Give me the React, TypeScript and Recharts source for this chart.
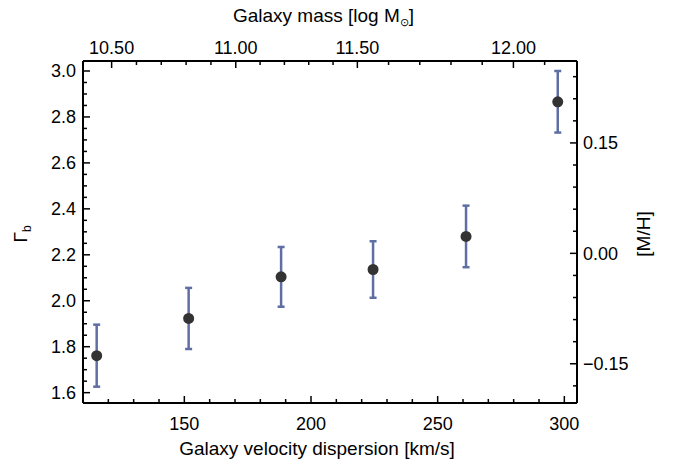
import React from "react";
import { ScatterChart, Scatter, XAxis, YAxis, ErrorBar } from "recharts";

// one point per velocity dispersion bin
const sigma = [115.4, 151.7, 188.2, 224.5, 261.2, 297.4];
const gammaB = [1.761, 1.923, 2.104, 2.136, 2.28, 2.866];
const gammaErr = [0.135, 0.133, 0.13, 0.123, 0.134, 0.134];

// labelled ticks
const sigmaLabels = [150, 200, 250, 300];
const gammaLabels = [1.6, 1.8, 2.0, 2.2, 2.4, 2.6, 2.8, 3.0];
const mhLabels = [-0.15, 0.0, 0.15];
const massLabels = [10.5, 11.0, 11.5, 12.0];
// velocity dispersion under each mass label of the top axis
const massAtSigma = [121.3, 170.3, 218.3, 279.9];

const SIGMA_DOMAIN: [number, number] = [110, 305];
const GAMMA_DOMAIN: [number, number] = [1.555, 3.0435];
const MH_DOMAIN: [number, number] = [-0.2033, 0.2613];

const W = 673;
const H = 464;
const FONT = "'Liberation Sans', Arial, Helvetica, sans-serif";
const FS = 18;
const TITLE_FS = 19;

const data = sigma.map((s, i) => ({ sigma: s, gamma: gammaB[i], err: gammaErr[i] }));

const steps = (from: number, to: number, step: number) => {
    const out: number[] = [];
    const n = Math.round((to - from) / step);
    for (let i = 0; i <= n; i++) out.push(Math.round((from + i * step) * 1000) / 1000);
    return out;
};

// piecewise linear between the labelled masses
const massToSigma = (m: number) => {
    let i = 0;
    while (i < massLabels.length - 2 && m > massLabels[i + 1]) i++;
    const t = (m - massLabels[i]) / (massLabels[i + 1] - massLabels[i]);
    return massAtSigma[i] + t * (massAtSigma[i + 1] - massAtSigma[i]);
};

const sigmaTicks = steps(120, 300, 10);
const gammaTicks = steps(1.6, 3.0, 0.05);
const mhTicks = steps(-0.18, 0.24, 0.03);
const massTicks = steps(10.5, 12.1, 0.1).map(massToSigma);

const findMajor = (v: number, majors: number[]) =>
    majors.findIndex((m) => Math.abs(m - v) < 1e-4);

type Side = "bottom" | "top" | "left" | "right";

function makeTick(side: Side, majors: number[], fmt: (idx: number) => string) {
    return (props: any) => {
        const { x, y, payload } = props;
        const idx = findMajor(payload.value, majors);
        const len = idx >= 0 ? 7 : 4;
        let line;
        let label = null;
        const textProps = { fontFamily: FONT, fontSize: FS, fill: "#000" };
        if (side === "bottom") {
            line = <line x1={x} y1={y} x2={x} y2={y - len} />;
            if (idx >= 0)
                label = <text x={x} y={y + 26.5} textAnchor="middle" {...textProps}>{fmt(idx)}</text>;
        } else if (side === "top") {
            line = <line x1={x} y1={y} x2={x} y2={y + len} />;
            if (idx >= 0)
                label = <text x={x} y={y - 7} textAnchor="middle" {...textProps}>{fmt(idx)}</text>;
        } else if (side === "left") {
            line = <line x1={x} y1={y} x2={x + len} y2={y} />;
            if (idx >= 0)
                label = <text x={x - 7} y={y + 6.5} textAnchor="end" {...textProps}>{fmt(idx)}</text>;
        } else {
            line = <line x1={x} y1={y} x2={x - len} y2={y} />;
            if (idx >= 0)
                label = <text x={x + 6} y={y + 6.5} textAnchor="start" {...textProps}>{fmt(idx)}</text>;
        }
        return (
            <g stroke="#000" strokeWidth={1.5}>
                {line}
                <g stroke="none">{label}</g>
            </g>
        );
    };
}

const axisLine = { stroke: "#000", strokeWidth: 2 };

export default function App() {
    return (
        <div style={{ position: "absolute", left: 0, top: 0, width: W, height: H, background: "#fff" }}>
            <ScatterChart width={W} height={H} margin={{ top: 0, right: 0, bottom: 0, left: 0 }}>
                <XAxis
                    xAxisId="bottom"
                    dataKey="sigma"
                    type="number"
                    orientation="bottom"
                    domain={SIGMA_DOMAIN}
                    allowDataOverflow
                    ticks={sigmaTicks}
                    interval={0}
                    height={61}
                    tickSize={0}
                    tickMargin={0}
                    tickLine={false}
                    axisLine={axisLine}
                    tick={makeTick("bottom", sigmaLabels, (i) => String(sigmaLabels[i]))}
                />
                <XAxis
                    xAxisId="top"
                    dataKey="sigma"
                    type="number"
                    orientation="top"
                    domain={SIGMA_DOMAIN}
                    allowDataOverflow
                    ticks={massTicks}
                    interval={0}
                    height={61}
                    tickSize={0}
                    tickMargin={0}
                    tickLine={false}
                    axisLine={axisLine}
                    tick={makeTick("top", massAtSigma, (i) => massLabels[i].toFixed(2))}
                />
                <YAxis
                    yAxisId="left"
                    dataKey="gamma"
                    type="number"
                    orientation="left"
                    domain={GAMMA_DOMAIN}
                    allowDataOverflow
                    ticks={gammaTicks}
                    interval={0}
                    width={83}
                    tickSize={0}
                    tickMargin={0}
                    tickLine={false}
                    axisLine={axisLine}
                    tick={makeTick("left", gammaLabels, (i) => gammaLabels[i].toFixed(1))}
                />
                <YAxis
                    yAxisId="right"
                    dataKey="gamma"
                    type="number"
                    orientation="right"
                    domain={MH_DOMAIN}
                    allowDataOverflow
                    ticks={mhTicks}
                    interval={0}
                    width={96}
                    tickSize={0}
                    tickMargin={0}
                    tickLine={false}
                    axisLine={axisLine}
                    tick={makeTick("right", mhLabels, (i) =>
                        mhLabels[i] < 0 ? "\u2212" + Math.abs(mhLabels[i]).toFixed(2) : mhLabels[i].toFixed(2)
                    )}
                />
                {/* keeps the top and right axes alive, draws nothing */}
                <Scatter
                    data={data}
                    xAxisId="top"
                    yAxisId="right"
                    shape={() => <g />}
                    isAnimationActive={false}
                />
                <Scatter
                    data={data}
                    xAxisId="bottom"
                    yAxisId="left"
                    fill="#333333"
                    shape={(p: any) => <circle cx={p.cx} cy={p.cy} r={5.5} fill="#333333" />}
                    isAnimationActive={false}
                >
                    <ErrorBar dataKey="err" direction="y" width={3.5} stroke="#5f6fa3" strokeWidth={2.5} />
                </Scatter>
            </ScatterChart>
            <svg
                width={W}
                height={H}
                style={{ position: "absolute", left: 0, top: 0, pointerEvents: "none" }}
                fontFamily={FONT}
                fontSize={TITLE_FS}
            >
                <text x={323.5} y={22} textAnchor="middle">
                    Galaxy mass [log M
                    <tspan fontSize={11} dy={4}>{"\u2299"}</tspan>
                    <tspan dy={-4}>]</tspan>
                </text>
                <text x={317} y={455} textAnchor="middle">
                    Galaxy velocity dispersion [km/s]
                </text>
                <text x={27} y={234} textAnchor="middle" transform="rotate(-90 27 234)">
                    Γ<tspan fontSize={12} dy={4}>b</tspan>
                </text>
                <text x={650} y={234} textAnchor="middle" transform="rotate(-90 650 234)">
                    [M/H]
                </text>
            </svg>
        </div>
    );
}
